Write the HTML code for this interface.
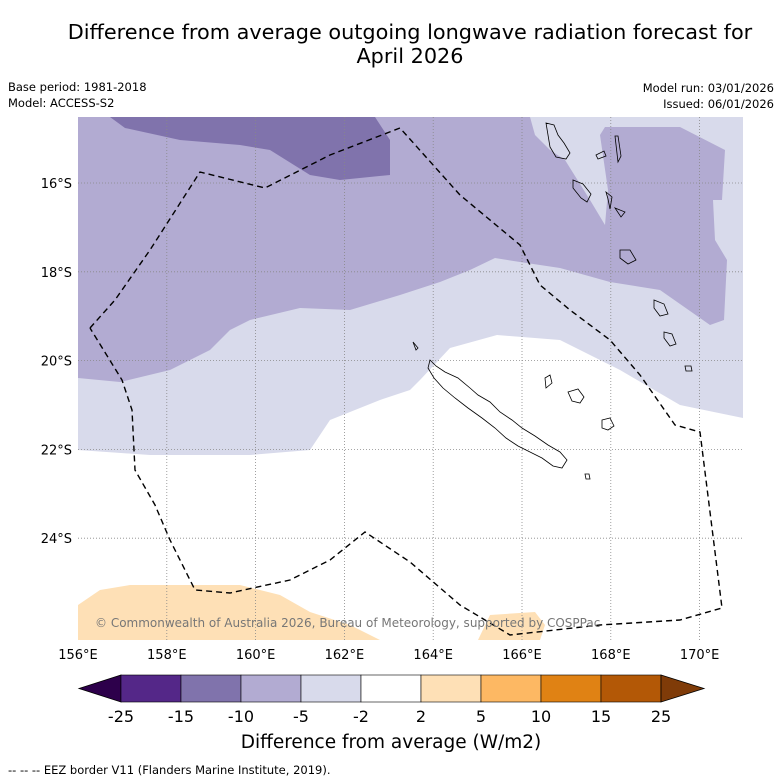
<!DOCTYPE html>
<html><head><meta charset="utf-8"><style>
body{margin:0;background:#fff;font-family:"DejaVu Sans","Liberation Sans",sans-serif;}
svg{display:block}
</style></head><body>
<svg id="c" width="781" height="781" viewBox="0 0 781 781" xmlns="http://www.w3.org/2000/svg">
<text x="410" y="39" text-anchor="middle" font-size="20.8">Difference from average outgoing longwave radiation forecast for</text>
<text x="410" y="63" text-anchor="middle" font-size="20.8">April 2026</text>
<text x="8" y="91" font-size="11.5">Base period: 1981-2018</text>
<text x="8" y="107" font-size="11.5">Model: ACCESS-S2</text>
<text x="774" y="92" font-size="11.5" text-anchor="end">Model run: 03/01/2026</text>
<text x="774" y="108" font-size="11.5" text-anchor="end">Issued: 06/01/2026</text>
<defs><clipPath id="mc"><rect x="78" y="117" width="665" height="523"/></clipPath></defs>
<g clip-path="url(#mc)">
<rect x="78" y="117" width="665" height="523" fill="#d8daeb"/>
<polygon fill="#b2abd2" points="78,117 530,117 535,135 550,150 565,160 590,200 605,225 608,190 600,135 605,127 680,127 725,150 722,200 713,200 715,240 727,260 724,320 710,325 660,290 610,282 560,268 520,262 495,258 470,270 440,282 400,295 350,310 300,308 250,320 230,330 210,350 170,370 120,382 78,378"/>
<polygon fill="#8073ac" points="110,117 125,128 180,140 240,145 270,150 310,175 340,180 390,175 390,140 375,117"/>
<polygon fill="#ffffff" points="78,450 150,455 250,455 310,450 330,420 380,400 410,390 420,380 450,348 497,335 560,340 620,370 680,405 743,418 743,640 78,640"/>
<polygon fill="#fee0b6" points="78,605 100,590 130,585 240,585 280,595 310,612 350,625 380,640 78,640"/>
<polygon fill="#fee0b6" points="478,640 490,615 535,612 545,625 540,640"/>
<g id="grid" stroke="#888" stroke-width="0.8" stroke-dasharray="1,2"></g>
<g fill="none" stroke="#000" stroke-width="0.8">
<path d="M430,360 L436,366 445,372 458,378 470,388 478,395 490,402 500,412 512,420 522,428 535,436 548,445 560,452 567,460 562,468 553,466 542,458 530,452 518,446 506,438 495,428 482,418 468,408 455,398 443,388 434,378 428,368 Z"/>
<path d="M545,378 l5,-3 l2,8 l-6,5 z M568,392 l10,-3 l6,8 l-4,6 l-8,-2 z M602,420 l8,-2 l4,8 l-6,4 l-6,-2 z M585,474 l4,0 l1,5 l-4,0 z"/>
<path d="M546,123 l8,2 l4,10 l6,8 l6,10 l-4,6 l-10,-2 l-6,-10 z M573,180 l10,4 l8,10 l-4,8 l-6,-4 l-8,-10 z M596,155 l8,-4 l2,5 l-8,3 z M615,136 l3,0 l3,20 l-3,6 z M606,192 l6,5 l-2,12 l-2,-10 z M615,208 l10,4 l-4,5 z M620,250 l10,0 l6,10 l-8,4 l-8,-6 z M654,300 l10,4 l4,10 l-8,2 l-6,-8 z M664,332 l8,2 l4,10 l-6,2 l-6,-8 z M685,366 l6,0 l1,5 l-6,0 z M413,342 l3,8 l2,-2 z"/>
</g>
<polyline fill="none" stroke="#000" stroke-width="1.4" stroke-dasharray="6,4" points="90,328 115,300 150,250 200,172 265,188 330,155 400,128 460,195 520,245 540,285 570,310 610,340 640,375 675,425 700,432 722,608 680,620 600,625 510,635 460,605 410,562 365,532 330,560 290,580 230,593 195,590 170,540 155,505 135,470 132,410 122,380 90,328"/>
<text x="95" y="627" font-size="12" fill="#777">© Commonwealth of Australia 2026, Bureau of Meteorology, supported by COSPPac</text>
</g>
<g id="axes" font-size="13"></g>
<g id="cbar"></g>
<text x="391" y="748" text-anchor="middle" font-size="18.5">Difference from average (W/m2)</text>
<text x="8" y="774" font-size="11.5">--  --  -- EEZ border V11 (Flanders Marine Institute, 2019).</text>
</svg>
<script>
const lonTicks=[156,158,160,162,164,166,168,170];
const latTicks=[16,18,20,22,24];
const cbBounds=["-25","-15","-10","-5","-2","2","5","10","15","25"];
const cbColors=["#542788","#8073ac","#b2abd2","#d8daeb","#ffffff","#fee0b6","#fdb863","#e08214","#b35806"];
const NS="http://www.w3.org/2000/svg";
const x=lon=>78+(lon-156)*44.4;
const y=lat=>183+(lat-16)*44.4;
function mk(t,a,p,txt){const e=document.createElementNS(NS,t);for(const k in a)e.setAttribute(k,a[k]);if(txt!==undefined)e.textContent=txt;p.appendChild(e);return e;}
const grid=document.getElementById('grid'),axes=document.getElementById('axes'),cb=document.getElementById('cbar');
lonTicks.forEach(l=>{
 if(l>156){const g=mk('line',{x1:x(l),x2:x(l),y1:117,y2:640},grid);
 
 }
 const t=mk('text',{x:x(l),y:659,'text-anchor':'middle'},axes,l+'°E');
 
 
});
latTicks.forEach(l=>{
 const g=mk('line',{x1:78,x2:743,y1:y(l),y2:y(l)},grid);
 
 
 const t=mk('text',{x:72,y:y(l)+5,'text-anchor':'end'},axes,l+'°S');
 
 
});
const bx0=121,bw=60,by=675,bh=27;
const lt=mk('polygon',{points:`${bx0},${by} 79,${by+bh/2} ${bx0},${by+bh}`,fill:'#2d004b',stroke:'#000','stroke-width':0.8},cb);


cbColors.forEach((c,i)=>{
 const r=mk('rect',{x:bx0+i*bw,y:by,width:bw,height:bh,fill:c,stroke:'#000','stroke-width':0.6},cb);
 
 
});
const xe=bx0+cbColors.length*bw;
const rt=mk('polygon',{points:`${xe},${by} 704,${by+bh/2} ${xe},${by+bh}`,fill:'#7f3b08',stroke:'#000','stroke-width':0.8},cb);


cbBounds.forEach((b,i)=>{
 const t=mk('text',{x:bx0+i*bw,y:722,'text-anchor':'middle','font-size':16},cb,b);
 
 
});
</script>
</body></html>
